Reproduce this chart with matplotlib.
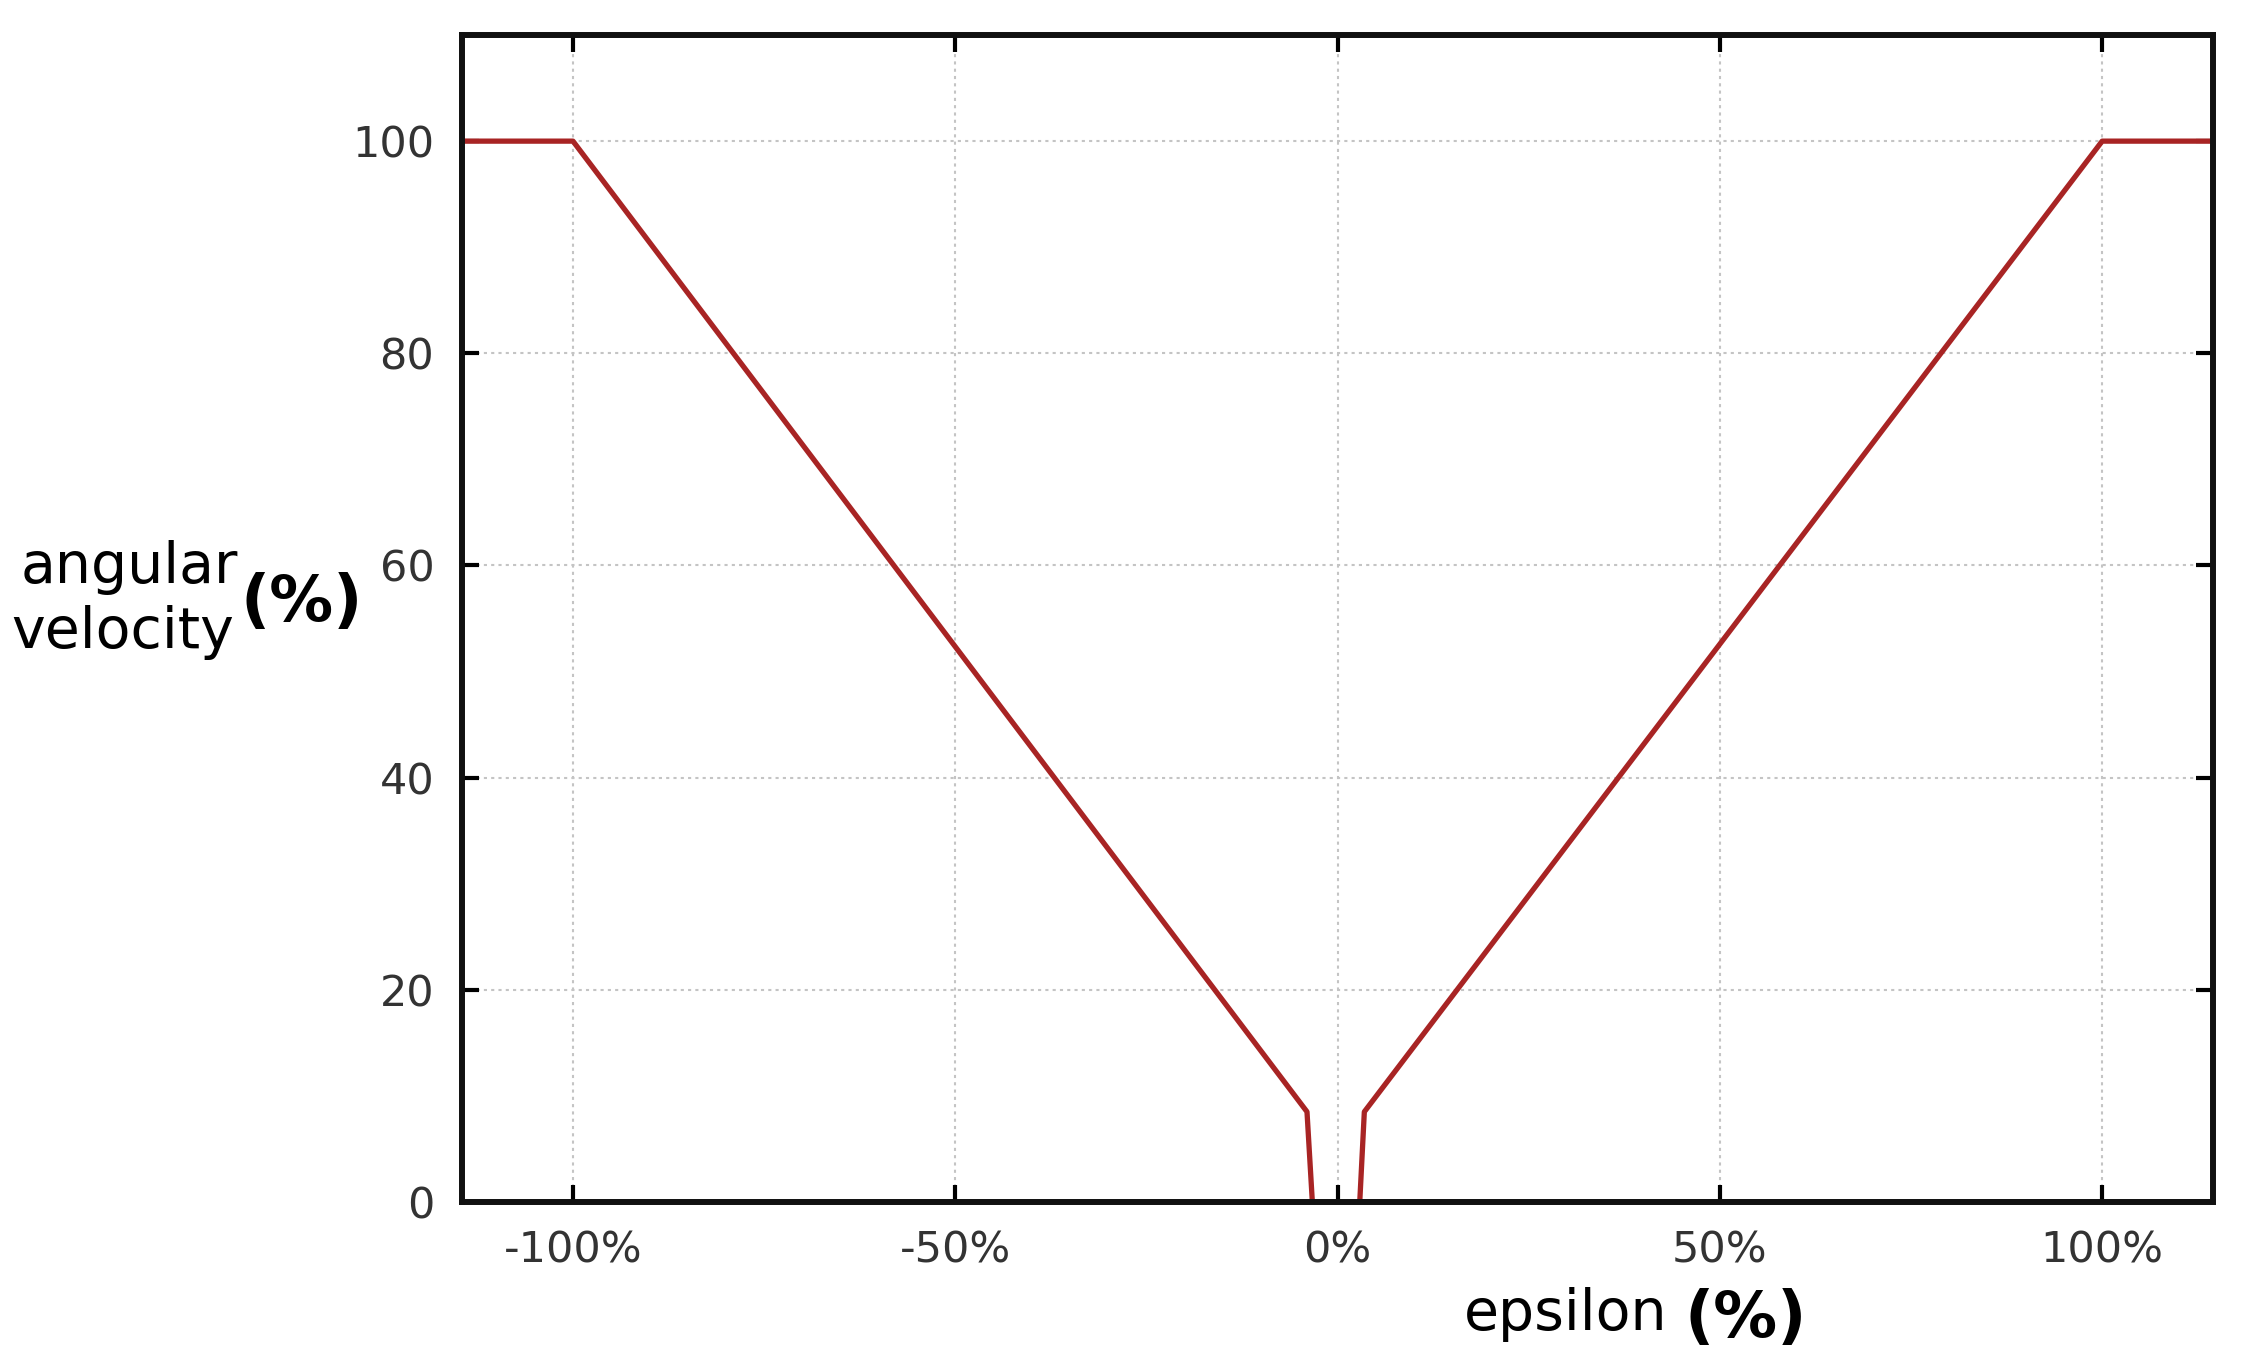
import matplotlib.pyplot as plt

# response curve: dead zone around 0, saturation at +-100 %
eps_left = [-115, -100, -4, -3.3]
vel_left = [100, 100, 8.5, 0]
eps_right = [2.9, 3.5, 100, 115]
vel_right = [0, 8.5, 100, 100]

x_ticks = [-100, -50, 0, 50, 100]
x_tick_labels = ["-100%", "-50%", "0%", "50%", "100%"]
y_ticks = [0, 20, 40, 60, 80, 100]

fig = plt.figure(figsize=(22.52, 13.64), dpi=100)
ax = fig.add_axes([0.2052, 0.1188, 0.7775, 0.8555])

ax.plot(eps_left, vel_left, color="#a82424", linewidth=3.8)
ax.plot(eps_right, vel_right, color="#a82424", linewidth=3.8)

ax.set_xlim(-114.5, 114.5)
ax.set_ylim(0, 110)
ax.set_xticks(x_ticks)
ax.set_xticklabels(x_tick_labels)
ax.set_yticks(y_ticks)

ax.grid(True, linestyle=(0, (1.5, 2)), color="#c4c4c4", linewidth=1.5)
for sp in ax.spines.values():
    sp.set_linewidth(4.3)
    sp.set_color("#111111")
ax.tick_params(direction="in", length=12, width=3, top=True, right=True,
               labelsize=31, labelcolor="#333333", pad=20)

# axis labels with bold "(%)"
fig.text(0.009, 0.584, "angular", fontsize=41, ha="left", va="center")
fig.text(0.005, 0.536, "velocity", fontsize=41, ha="left", va="center")
fig.text(0.107, 0.558, "(%)", fontsize=46, fontweight="bold", ha="left", va="center")

fig.text(0.650, 0.036, "epsilon", fontsize=41, ha="left", va="center")
fig.text(0.748, 0.033, "(%)", fontsize=46, fontweight="bold", ha="left", va="center")

fig.savefig("out.png", dpi=100)
